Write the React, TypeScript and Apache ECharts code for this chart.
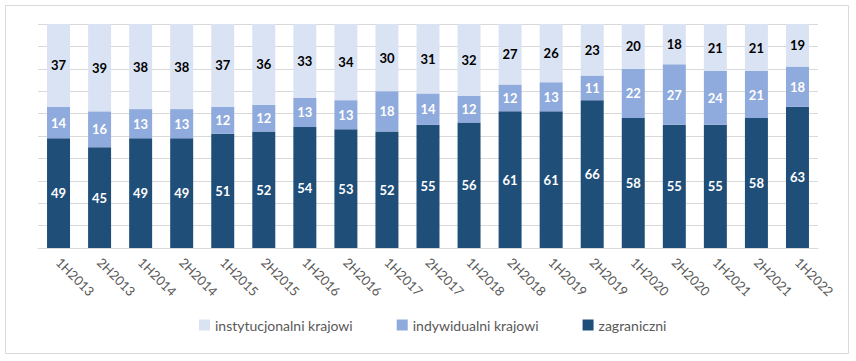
import React, { useEffect, useRef } from "react";
import * as echarts from "echarts";

const categories = [
  "1H2013", "2H2013", "1H2014", "2H2014", "1H2015", "2H2015", "1H2016", "2H2016",
  "1H2017", "2H2017", "1H2018", "2H2018", "1H2019", "2H2019", "1H2020", "2H2020",
  "1H2021", "2H2021", "1H2022",
];
const zagraniczni = [49, 45, 49, 49, 51, 52, 54, 53, 52, 55, 56, 61, 61, 66, 58, 55, 55, 58, 63];
const indywidualni = [14, 16, 13, 13, 12, 12, 13, 13, 18, 14, 12, 12, 13, 11, 22, 27, 24, 21, 18];
const instytucjonalni = [37, 39, 38, 38, 37, 36, 33, 34, 30, 31, 32, 27, 26, 23, 20, 18, 21, 21, 19];

const FONT = "Lato, 'Open Sans', sans-serif";

export default function App() {
  const ref = useRef<HTMLDivElement>(null);
  useEffect(() => {
    document.body.style.margin = "0";
    const chart = echarts.init(ref.current!, null, { renderer: "svg" });
    const label = (color: string) => ({
      show: true,
      position: "inside",
      color,
      fontWeight: "bold",
      fontSize: 13,
      fontFamily: FONT,
    });
    chart.setOption({
      animation: false,
      backgroundColor: "#ffffff",
      textStyle: { fontFamily: FONT },
      graphic: [
        {
          type: "rect",
          shape: { x: 5.5, y: 5.5, width: 843, height: 348 },
          style: { fill: "none", stroke: "#d9d9d9", lineWidth: 1 },
          silent: true,
        },
      ],
      grid: { left: 38, right: 38, top: 24, bottom: 113 },
      legend: {
        top: 318,
        left: 199,
        padding: 0,
        itemWidth: 11,
        itemHeight: 11,
        itemGap: 44,
        icon: "rect",
        textStyle: { color: "#595959", fontSize: 14, fontFamily: FONT },
        data: ["instytucjonalni krajowi", "indywidualni krajowi", "zagraniczni"],
      },
      xAxis: {
        type: "category",
        data: categories,
        axisLine: { lineStyle: { color: "#d9d9d9" } },
        axisTick: { show: false },
        axisLabel: {
          rotate: -45,
          color: "#595959",
          fontSize: 13,
          margin: 12,
          fontFamily: FONT,
        },
      },
      yAxis: {
        type: "value",
        min: 0,
        max: 100,
        interval: 10,
        axisLabel: { show: false },
        axisLine: { show: false },
        axisTick: { show: false },
        splitLine: { lineStyle: { color: "#d9d9d9" } },
      },
      series: [
        {
          name: "zagraniczni",
          type: "bar",
          stack: "a",
          data: zagraniczni,
          barWidth: "56%",
          itemStyle: { color: "#1f4e79" },
          label: label("#ffffff"),
        },
        {
          name: "indywidualni krajowi",
          type: "bar",
          stack: "a",
          data: indywidualni,
          itemStyle: { color: "#8faadc" },
          label: label("#ffffff"),
        },
        {
          name: "instytucjonalni krajowi",
          type: "bar",
          stack: "a",
          data: instytucjonalni,
          itemStyle: { color: "#dae3f3" },
          label: label("#000000"),
        },
      ],
    });
    return () => chart.dispose();
  }, []);
  return <div ref={ref} style={{ width: 856, height: 361 }} />;
}
